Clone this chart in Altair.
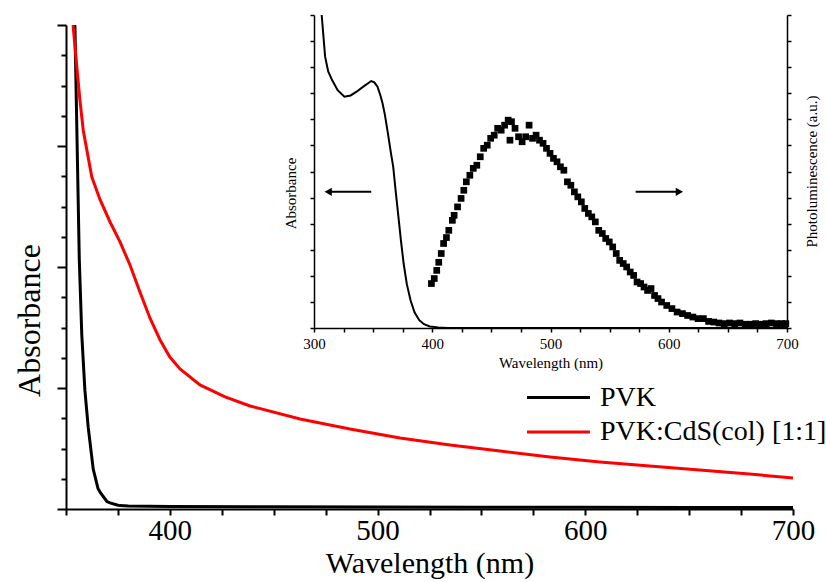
import altair as alt
import pandas as pd

FONT = "Liberation Serif"

# ---------------- main chart data ----------------
pvk_wl = [353.4, 354.3, 355.4, 356.4, 357.6, 359.1, 360.7, 363.1, 365.4, 366.4, 369.7,
          371.2, 374.6, 376, 380, 390, 400, 450, 500, 550, 600, 650, 700]
pvk_abs = [4.0, 3.99, 2.975, 2.06, 1.44, 0.98, 0.674, 0.33, 0.17, 0.14, 0.062,
           0.05, 0.033, 0.028, 0.024, 0.022, 0.02, 0.018, 0.016, 0.015, 0.014, 0.013, 0.012]

cds_wl = [353.4, 355.2, 356.7, 358.3, 360.0, 362.4, 366.4, 371.2, 376.0, 380.8, 385.6,
          390.4, 395.3, 400.0, 404.9, 414.5, 426.6, 438.6, 462.7, 486.7, 510.8, 534.9,
          559.0, 583.0, 607.0, 631.0, 655.0, 679.0, 700.0]
cds_abs = [4.0, 3.655, 3.38, 3.13, 2.97, 2.746, 2.556, 2.372, 2.207, 2.017, 1.793,
           1.579, 1.397, 1.256, 1.157, 1.025, 0.926, 0.851, 0.744, 0.661, 0.587, 0.529,
           0.479, 0.43, 0.388, 0.355, 0.322, 0.289, 0.257]

series_names = ["PVK", "PVK:CdS(col) [1:1]"]
series_colors = ["#000000", "#ff0000"]

# ---------------- inset data ----------------
ins_abs_wl = [306.5, 309.4, 312, 315.3, 320, 325.7, 331, 336, 342, 348.4, 351, 353.7, 356,
              358, 360, 362.5, 365, 367, 369, 371.4, 373.5, 375.8, 378.5, 381.7, 385, 389,
              393, 398, 405, 412.7, 450, 500, 550, 600, 650, 700]
ins_abs = [1.0, 0.867, 0.82, 0.792, 0.76, 0.739, 0.743, 0.755, 0.772, 0.789, 0.785, 0.771,
           0.745, 0.717, 0.68, 0.622, 0.56, 0.515, 0.44, 0.355, 0.28, 0.206, 0.14, 0.088,
           0.05, 0.025, 0.012, 0.005, 0.002, 0.0, 0.0, 0.0, 0.0, 0.0, 0.0, 0.0]

pl_wl = [399.3, 401.7, 403.8, 405.5, 407.6, 409.6, 412, 414, 417, 418.5, 421.4, 424.4,
         426.7, 428.8, 431.8, 434.7, 437.7, 440.6, 443.5, 446.5, 449.4, 452.4, 455.3,
         458.3, 461.2, 464.2, 465.7, 467, 470, 473, 476, 479, 481.9, 484.8, 487.8, 490.7,
         493.7, 496.6, 499.6, 502.5, 505.5, 508.4, 511.3, 514.3, 517.2, 520.2, 523.1,
         526.1, 529, 532, 534.9, 537.9, 540.8, 543.8, 546.7, 549.7, 552.6, 555.6, 558.5,
         561.5, 564.4, 567.4, 570.3, 573.2, 576.2, 579.1, 582.1, 585, 588, 590.9, 593.9,
         598.3, 602.7, 607.1, 611.6, 616, 620.4, 624.8, 629.3, 633.7, 638.1, 642.5, 646.9,
         651.4, 655.8, 660.2, 664.6, 669, 673.5, 677.9, 682.3, 686.7, 691.1, 695.6, 699]
pl_int = [0.142, 0.158, 0.184, 0.21, 0.238, 0.27, 0.289, 0.312, 0.344, 0.36, 0.387, 0.414,
          0.44, 0.467, 0.488, 0.51, 0.52, 0.547, 0.574, 0.584, 0.606, 0.616, 0.638,
          0.632, 0.648, 0.664, 0.6, 0.659, 0.638, 0.611, 0.595, 0.611, 0.648, 0.606, 0.616,
          0.6, 0.59, 0.574, 0.558, 0.542, 0.531, 0.515, 0.504, 0.467, 0.456, 0.435, 0.419,
          0.403, 0.382, 0.366, 0.355, 0.339, 0.312, 0.302, 0.286, 0.275, 0.259, 0.238,
          0.216, 0.206, 0.195, 0.179, 0.168, 0.147, 0.142, 0.131, 0.12, 0.126, 0.104, 0.094,
          0.083, 0.072, 0.062, 0.051, 0.046, 0.04, 0.035, 0.03, 0.03, 0.021, 0.019, 0.016,
          0.014, 0.016, 0.014, 0.016, 0.012, 0.012, 0.014, 0.012, 0.014, 0.016, 0.014,
          0.014, 0.014]

# arrows (tail -> tip) in inset coordinates
arrow_tail = [348.4, 572.0]
arrow_tip = [312.0, 609.0]
arrow_level = [0.435, 0.435]
arrow_shape = ["triangle-left", "triangle-right"]

# ---------------- layout (pixels) ----------------
W, H = 727, 484
INS_X = [248, 721]     # inset x-range inside plot area
INS_Y = [303, -10]     # inset y-range inside plot area

main_df = pd.DataFrame({
    "wl": pvk_wl + cds_wl,
    "a": pvk_abs + cds_abs,
    "s": [series_names[0]] * len(pvk_wl) + [series_names[1]] * len(cds_wl),
    "o": list(range(len(pvk_wl))) + list(range(len(cds_wl))),
})
ins_abs_df = pd.DataFrame({"wl": ins_abs_wl, "a": ins_abs})
pl_df = pd.DataFrame({"wl": pl_wl, "p": pl_int})
arrow_df = pd.DataFrame({"t0": arrow_tail, "t1": arrow_tip, "y": arrow_level, "shape": arrow_shape})

main_ticks_y = [i * 0.25 for i in range(17)]
main_ticks_x = [350 + 25 * i for i in range(15)]
ins_ticks_x = [300 + 25 * i for i in range(17)]
ins_ticks_y = [i / 12 for i in range(13)]

main_x = alt.X("wl:Q", scale=alt.Scale(domain=[350, 700], nice=False, zero=False),
               axis=alt.Axis(values=main_ticks_x, title="Wavelength (nm)",
                             labelExpr="datum.value % 100 === 0 ? datum.label : ''",
                             labelFont=FONT, labelFontSize=29, titleFont=FONT, titleFontSize=30,
                             titleFontWeight="normal", labelPadding=1, titlePadding=3,
                             tickSize=6, tickWidth=2, domainWidth=2, grid=False,
                             domainColor="black", tickColor="black", labelColor="black",
                             titleColor="black", labelFlush=False))
main_y = alt.Y("a:Q", scale=alt.Scale(domain=[0, 4], nice=False, zero=False),
               axis=alt.Axis(values=main_ticks_y, labels=False, title="Absorbance",
                             titleFont=FONT, titleFontSize=32, titleFontWeight="normal",
                             titleColor="black", titleX=-37, titleY=295,
                             titleAngle=270, titleAlign="center", titleBaseline="middle",
                             tickSize={"condition": {"test": "datum.value % 1 === 0", "value": 9}, "value": 5},
                             tickWidth=2, domainWidth=2, grid=False,
                             domainColor="black", tickColor="black"))

main = alt.Chart(main_df).mark_line(strokeWidth=3, clip=True).encode(
    x=main_x, y=main_y,
    color=alt.Color("s:N", scale=alt.Scale(domain=series_names, range=series_colors),
                    legend=alt.Legend(orient="none", legendX=475, legendY=355, title=None,
                                      symbolType="M-2,0H2", symbolSize=992,
                                      symbolStrokeWidth=3, labelFont=FONT, labelFontSize=28,
                                      labelColor="black", labelOffset=24, rowPadding=2.5,
                                      padding=0, labelLimit=400)),
    order="o:Q",
)

ins_x_scale = alt.Scale(domain=[300, 700], range=INS_X, nice=False, zero=False)
ins_x = alt.X("wl:Q", scale=ins_x_scale,
              axis=alt.Axis(orient="bottom", offset=-(H - INS_Y[0]), values=ins_ticks_x,
                            title="Wavelength (nm)",
                            labelExpr="datum.value % 100 === 0 ? datum.label : ''",
                            labelFont=FONT, labelFontSize=15, titleFont=FONT, titleFontSize=15,
                            titleFontWeight="normal", labelPadding=4, titlePadding=4,
                            tickSize=4, tickWidth=1.5, domainWidth=1.5, grid=False,
                            domainColor="black", tickColor="black", labelColor="black",
                            titleColor="black", labelFlush=False))
ins_abs_layer = alt.Chart(ins_abs_df).mark_line(strokeWidth=2, color="black").encode(
    x=ins_x,
    y=alt.Y("a:Q", scale=alt.Scale(domain=[0, 1], range=INS_Y, nice=False, zero=False),
            axis=alt.Axis(orient="left", offset=-INS_X[0], values=ins_ticks_y, labels=False,
                          title="Absorbance", titleFont=FONT, titleFontSize=15,
                          titleFontWeight="normal", titleColor="black",
                          titleX=-24, titleY=168, titleAngle=270, titleAlign="center",
                          titleBaseline="middle",
                          tickSize=4, tickWidth=1.5, domainWidth=1.5, grid=False,
                          domainColor="black", tickColor="black")),
)

pl_layer = alt.Chart(pl_df).mark_point(shape="square", filled=True, size=45, opacity=1,
                                       color="black").encode(
    x=alt.X("wl:Q", scale=ins_x_scale, axis=None),
    y=alt.Y("p:Q", scale=alt.Scale(domain=[0, 1], range=INS_Y, nice=False, zero=False),
            axis=alt.Axis(orient="right", offset=-(W - INS_X[1]), values=ins_ticks_y,
                          labels=False, title="Photoluminescence (a.u.)", titleFont=FONT,
                          titleFontSize=15, titleFontWeight="normal", titleColor="black",
                          titleX=24, titleY=146, titleAngle=270, titleAlign="center",
                          titleBaseline="middle",
                          tickSize=4, tickWidth=1.5, domainWidth=1.5, grid=False,
                          domainColor="black", tickColor="black")),
)

arrow_rules = alt.Chart(arrow_df).mark_rule(strokeWidth=2, color="black").encode(
    x=alt.X("t0:Q", scale=ins_x_scale, axis=None),
    x2="t1:Q",
    y=alt.Y("y:Q", scale=alt.Scale(domain=[0, 1], range=INS_Y, nice=False, zero=False), axis=None),
)
arrow_heads = alt.Chart(arrow_df).mark_point(filled=True, size=70, opacity=1, color="black").encode(
    x=alt.X("t1:Q", scale=ins_x_scale, axis=None),
    y=alt.Y("y:Q", scale=alt.Scale(domain=[0, 1], range=INS_Y, nice=False, zero=False), axis=None),
    shape=alt.Shape("shape:N", scale=None),
)

chart = alt.layer(main, ins_abs_layer, pl_layer, arrow_rules, arrow_heads).resolve_scale(
    x="independent", y="independent", color="independent", shape="independent"
).properties(
    width=W, height=H,
    autosize=alt.AutoSizeParams(type="none"),
    padding={"left": 66, "top": 25, "right": 33, "bottom": 73},
    background="white",
).configure_view(stroke=None)

chart.save("out.html", embed_options={"renderer": "svg", "actions": False})
